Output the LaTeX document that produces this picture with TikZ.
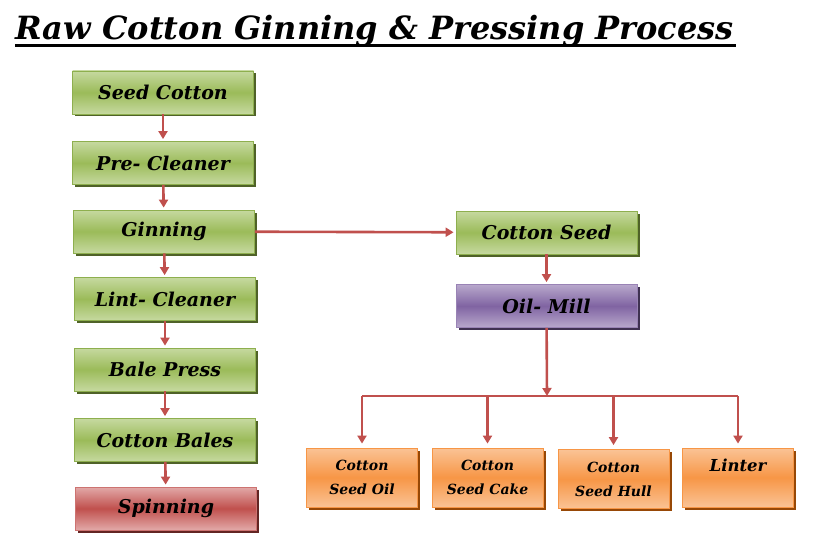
\documentclass[tikz,border=0pt]{standalone}
\usepackage{fontspec}
\setmainfont{DejaVu Serif}
\usetikzlibrary{positioning,arrows.meta,shadows}

\definecolor{grnlight}{HTML}{C6D9A0}
\definecolor{grnmid}{HTML}{9BBB59}
\definecolor{grnline}{HTML}{8EAF4E}
\definecolor{grndark}{HTML}{4F6228}
\definecolor{purlight}{HTML}{B8A8CC}
\definecolor{purmid}{HTML}{8064A2}
\definecolor{purdark}{HTML}{3F3151}
\definecolor{redlight}{HTML}{E2A9A8}
\definecolor{redmid}{HTML}{C0504D}
\definecolor{reddark}{HTML}{632523}
\definecolor{orglight}{HTML}{FAC395}
\definecolor{orgmid}{HTML}{F79646}
\definecolor{orgdark}{HTML}{974806}
\definecolor{arrowred}{HTML}{C0504D}

\begin{document}
\begin{tikzpicture}[x=1pt,y=-1pt,
			stage/.style={draw=grnline, line width=0.8pt, top color=grnlight, bottom color=grnlight, middle color=grnmid,
				drop shadow={shadow xshift=2.5pt, shadow yshift=-2.5pt, fill=grndark, opacity=1},
				minimum width=181pt, minimum height=43pt, inner sep=0pt,
				font=\fontsize{19}{22}\selectfont\bfseries\itshape},
			mill/.style={stage, draw=purmid!80!white, top color=purlight, bottom color=purlight, middle color=purmid,
				drop shadow={shadow xshift=2.5pt, shadow yshift=-2.5pt, fill=purdark, opacity=1}},
			finish/.style={stage, draw=redmid!80!white, top color=redlight, bottom color=redlight, middle color=redmid,
				drop shadow={shadow xshift=2.5pt, shadow yshift=-2.5pt, fill=reddark, opacity=1}},
			product/.style={stage, draw=orgmid, top color=orglight, bottom color=orglight, middle color=orgmid,
				drop shadow={shadow xshift=2.5pt, shadow yshift=-2.5pt, fill=orgdark, opacity=1},
				minimum width=111pt, minimum height=59pt, align=center,
				font=\fontsize{14}{24}\selectfont\bfseries\itshape}, % two lines per box
			flow/.style={draw=arrowred, line width=2.6pt, -{Triangle[length=8pt,width=9pt]}, shorten >=2pt},
			link/.style={draw=arrowred, line width=2.6pt}
			]
			\useasboundingbox (0,0) rectangle (815,543);
			\node[anchor=west, font=\fontsize{32}{36}\selectfont\bfseries\itshape] (title) at (12,31) {Raw Cotton Ginning \& Pressing Process};
			\draw[line width=2.8pt] ([xshift=3pt,yshift=-6pt]title.base west) -- ([xshift=-1pt,yshift=-6pt]title.base east);
			% ginning line
			\node[stage] (seed) at (163,92.5) {Seed Cotton};
			\node[stage] (precl) at (163,163) {Pre- Cleaner};
			\node[stage] (gin) at (164,231.5) {Ginning};
			\node[stage] (lintcl) at (165,299) {Lint- Cleaner};
			\node[stage] (bale) at (165,369.5) {Bale Press};
			\node[stage] (bales) at (165,440) {Cotton Bales};
			\node[finish] (spin) at (166,508.5) {Spinning};
			% seed line
			\node[stage] (cseed) at (546.5,232.5) {Cotton Seed};
			\node[mill] (oil) at (546.5,306) {Oil- Mill};
			\node[product] (sdoil) at (362,477.5) {Cotton\\Seed Oil};
			\node[product] (cake) at (487.5,477.5) {Cotton\\Seed Cake};
			\node[product] (hull) at (613.5,479) {Cotton\\Seed Hull};
			\node[product] (linter) at (738,477.5) {{\fontsize{16.5}{24}\selectfont Linter}\\~};
			\coordinate (split) at (547,396);

			\draw[flow] (seed) -- (precl);
			\draw[flow] (precl) -- (gin);
			\draw[flow] (gin) -- (lintcl);
			\draw[flow] (lintcl) -- (bale);
			\draw[flow] (bale) -- (bales);
			\draw[flow] (bales) -- (spin);
			\draw[flow] (gin) -- (cseed);
			\draw[flow] (cseed) -- (oil);
			\draw[flow, shorten >=0pt] (oil) -- (split);
			\draw[link] (sdoil.north |- split) -- (linter.north |- split);
			\foreach \p in {sdoil,cake,hull,linter}
				\draw[flow, shorten >=4pt] (\p.north |- split) -- (\p.north);
		\end{tikzpicture}
\end{document}
